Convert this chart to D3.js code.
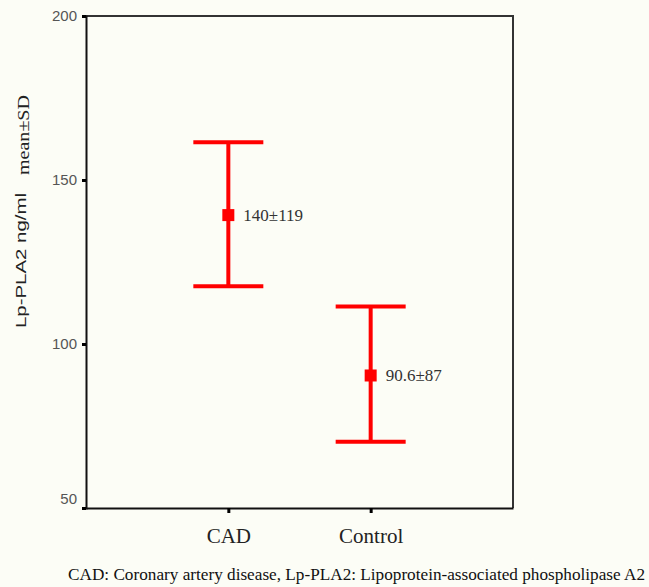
<!DOCTYPE html>
<html>
<head>
<meta charset="utf-8">
<script src="https://cdn.jsdelivr.net/npm/d3@7"></script>
<style>
    body { margin: 0; background: #fcfdf6; }
    svg { display: block; }
</style>
</head>
<body>
<div id="chart"></div>
<script>
// data
var groups      = ['CAD', 'Control'];
var means       = [139.3, 90.4];
var lower       = [117.6, 70.2];
var upper       = [161.5, 111.4];
var mean_labels = ['140±119', '90.6±87'];
var y_ticks     = [50, 100, 150, 200];

var data = groups.map(function(g, i){
    return {group: g, mean: means[i], lo: lower[i], hi: upper[i], label: mean_labels[i]};
});

var width   = 649;
var height  = 587;
var margin  = {top: 16, left: 86, right: 136, bottom: 79};
var plot_w  = width - margin.left - margin.right;
var plot_h  = height - margin.top - margin.bottom;
var serif   = "'Liberation Serif', 'Times New Roman', serif";
var sans    = "'Liberation Sans', Arial, sans-serif";

var svg = d3.select('#chart')
    .append('svg')
    .attr('width', width)
    .attr('height', height);

var g = svg.append('g')
    .attr('transform', 'translate(' + margin.left + ',' + margin.top + ')');

// scales
var x_scale = d3.scalePoint()
    .domain(groups)
    .range([0, plot_w])
    .padding(1);

var y_scale = d3.scaleLinear()
    .domain([50, 200])
    .range([plot_h, 0]);

// frame (top + right)
g.append('path')
    .attr('d', 'M0,0H' + plot_w + 'V' + plot_h)
    .attr('fill', 'none')
    .attr('stroke', '#333')
    .attr('stroke-width', 2);

// y axis
var y_axis = g.append('g')
    .call(d3.axisLeft(y_scale).tickValues(y_ticks).tickSize(4).tickPadding(5));
y_axis.select('.domain')
    .attr('stroke', '#111')
    .attr('stroke-width', 2);
y_axis.selectAll('.tick line')
    .attr('stroke', '#000')
    .attr('stroke-width', 3);
y_axis.selectAll('.tick text')
    .attr('font-family', sans)
    .attr('font-size', 15)
    .attr('fill', '#555')
    .attr('dy', function(d){
        return d === 50 ? '-0.3em' : '0.32em';
    });

// x axis
var x_axis = g.append('g')
    .attr('transform', 'translate(0,' + plot_h + ')')
    .call(d3.axisBottom(x_scale).tickSize(5).tickPadding(10).tickSizeOuter(0));
x_axis.select('.domain')
    .attr('stroke', '#111')
    .attr('stroke-width', 2);
x_axis.selectAll('.tick line')
    .attr('stroke', '#000')
    .attr('stroke-width', 3);
x_axis.selectAll('.tick text')
    .attr('font-family', serif)
    .attr('font-size', 21)
    .attr('fill', '#222')
    .attr('dy', '0.95em');

// error bars
var cap = 35;
var bars = g.selectAll('.bar')
    .data(data)
    .enter()
    .append('g')
    .attr('class', 'bar');

bars.append('line')
    .attr('x1', function(d){ return x_scale(d.group); })
    .attr('x2', function(d){ return x_scale(d.group); })
    .attr('y1', function(d){ return y_scale(d.hi); })
    .attr('y2', function(d){ return y_scale(d.lo); })
    .attr('stroke', '#ff0000')
    .attr('stroke-width', 4);

bars.selectAll('.cap')
    .data(function(d){ return [d, d].map(function(v, k){ return {x: x_scale(d.group), v: k ? d.lo : d.hi}; }); })
    .enter()
    .append('line')
    .attr('class', 'cap')
    .attr('x1', function(d){ return d.x - cap; })
    .attr('x2', function(d){ return d.x + cap; })
    .attr('y1', function(d){ return y_scale(d.v); })
    .attr('y2', function(d){ return y_scale(d.v); })
    .attr('stroke', '#ff0000')
    .attr('stroke-width', 4);

bars.append('rect')
    .attr('x', function(d){ return x_scale(d.group) - 6; })
    .attr('y', function(d){ return y_scale(d.mean) - 6; })
    .attr('width', 12)
    .attr('height', 12)
    .attr('fill', '#ff0000');

bars.append('text')
    .text(function(d){ return d.label; })
    .attr('x', function(d){ return x_scale(d.group) + 15; })
    .attr('y', function(d){ return y_scale(d.mean); })
    .attr('dy', '0.34em')
    .attr('font-family', serif)
    .attr('font-size', 17)
    .attr('fill', '#333');

// y axis title (two parts)
svg.append('text')
    .text('Lp-PLA2 ng/ml')
    .attr('transform', 'translate(26,328) rotate(-90)')
    .attr('textLength', 135)
    .attr('lengthAdjust', 'spacingAndGlyphs')
    .attr('font-family', sans)
    .attr('font-size', 15)
    .attr('fill', '#222');

svg.append('text')
    .text('mean±SD')
    .attr('transform', 'translate(29,175) rotate(-90)')
    .attr('textLength', 80)
    .attr('lengthAdjust', 'spacingAndGlyphs')
    .attr('font-family', serif)
    .attr('font-size', 17)
    .attr('fill', '#222');

// caption
svg.append('text')
    .text('CAD: Coronary artery disease, Lp-PLA2: Lipoprotein-associated phospholipase A2')
    .attr('x', 68)
    .attr('y', 580)
    .attr('textLength', 577)
    .attr('lengthAdjust', 'spacingAndGlyphs')
    .attr('font-family', serif)
    .attr('font-size', 17)
    .attr('fill', '#111');
</script>
</body>
</html>
